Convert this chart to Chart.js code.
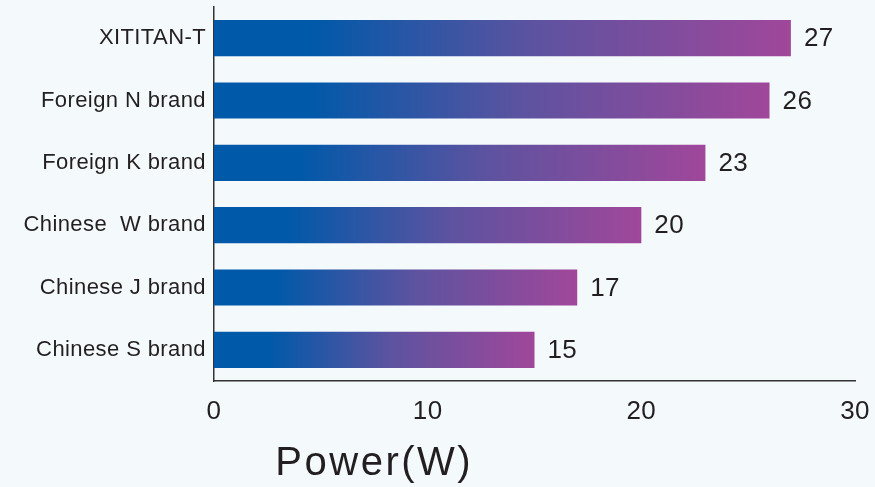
<!DOCTYPE html>
<html>
<head>
<meta charset="utf-8">
<script src="https://cdn.jsdelivr.net/npm/chart.js@4.4.1/dist/chart.umd.min.js"></script>
<style>
  html, body { margin: 0; padding: 0; background: #f4f9fc; }
  #wrap { width: 875px; height: 487px; }
</style>
</head>
<body>
<div id="wrap"><canvas id="myChart" width="875" height="487"></canvas></div>
<script>
const categories = [
    'XITITAN-T',
    'Foreign N brand',
    'Foreign K brand',
    'Chinese  W brand',
    'Chinese J brand',
    'Chinese S brand',
];
const powerValues = [27, 26, 23, 20, 17, 15];
const axisTitle = 'Power(W)';

const textColor = '#231f20';
const fontFamily = '"Liberation Sans", Arial, sans-serif';

// per-bar gradient, blue on the left fading into magenta at the bar end
function barGradient(ctx) {
    const chart = ctx.chart;
    if (!chart.chartArea || ctx.dataIndex === undefined) return '#0059a9';
    const xs = chart.scales.x;
    const x0 = xs.getPixelForValue(0);
    const x1 = xs.getPixelForValue(powerValues[ctx.dataIndex]);
    const g = chart.ctx.createLinearGradient(x0, 0, x1, 0);
    g.addColorStop(0, '#0059a9');
    g.addColorStop(0.17, '#0059a9');
    g.addColorStop(0.55, '#5c53a0');
    g.addColorStop(1, '#a0479a');
    return g;
}

const spacingPlugin = {
    id: 'spacing',
    beforeDraw(chart) {
        chart.ctx.letterSpacing = '0.4px';
    }
};

const valueLabels = {
    id: 'valueLabels',
    afterDatasetsDraw(chart) {
        const ctx = chart.ctx;
        const meta = chart.getDatasetMeta(0);
        ctx.save();
        ctx.font = '26px ' + fontFamily;
        ctx.fillStyle = textColor;
        ctx.textAlign = 'left';
        ctx.textBaseline = 'middle';
        meta.data.forEach((bar, i) => {
            ctx.fillText(String(powerValues[i]), bar.x + 13, bar.y + 1);
        });
        ctx.restore();
    }
};

const bottomTitle = {
    id: 'bottomTitle',
    afterDraw(chart) {
        const ctx = chart.ctx;
        const xs = chart.scales.x;
        ctx.save();
        ctx.font = '40px ' + fontFamily;
        ctx.letterSpacing = '2.5px';
        ctx.fillStyle = textColor;
        ctx.textAlign = 'center';
        ctx.textBaseline = 'alphabetic';
        ctx.fillText(axisTitle, xs.getPixelForValue(7.5), chart.chartArea.bottom + 94);
        ctx.restore();
    }
};

const data = {
    labels: categories,
    datasets: [{
        data: powerValues,
        backgroundColor: barGradient,
        borderWidth: 0,
        barPercentage: 0.58,
        categoryPercentage: 1,
    }]
};

const config = {
    type: 'bar',
    data: data,
    options: {
        indexAxis: 'y',
        responsive: false,
        animation: false,
        layout: {
            padding: { top: 7, right: 20, left: 0, bottom: 0 }
        },
        plugins: {
            legend: { display: false },
            tooltip: { enabled: false },
        },
        scales: {
            x: {
                min: 0,
                max: 30,
                ticks: {
                    stepSize: 10,
                    padding: 15,
                    color: textColor,
                    font: { family: fontFamily, size: 26 },
                    maxRotation: 0,
                },
                grid: { display: false, drawTicks: false },
                border: { display: true, color: '#333333', width: 1.5 },
                afterFit(s) {
                    s.height = 106;
                    s.paddingLeft = 0;
                    s.paddingRight = 0;
                },
            },
            y: {
                ticks: {
                    padding: 8,
                    color: textColor,
                    font: { family: fontFamily, size: 22 },
                },
                grid: { display: false, drawTicks: false },
                border: { display: true, color: '#333333', width: 1.5 },
                afterFit(s) {
                    s.width = 214;
                    s.paddingTop = 0;
                    s.paddingBottom = 0;
                },
            }
        }
    },
    plugins: [spacingPlugin, valueLabels, bottomTitle],
};

var myChart = new Chart(document.getElementById('myChart'), config);
</script>
</body>
</html>
